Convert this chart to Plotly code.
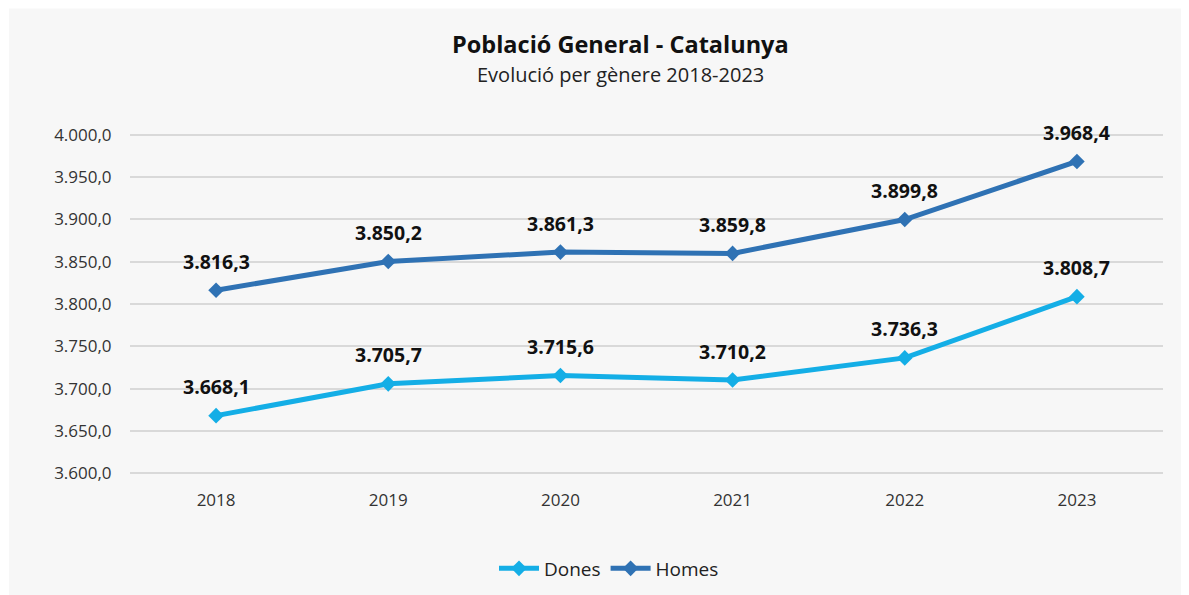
import plotly.graph_objects as go

years = ["2018", "2019", "2020", "2021", "2022", "2023"]
dones = [3668.1, 3705.7, 3715.6, 3710.2, 3736.3, 3808.7]
homes = [3816.3, 3850.2, 3861.3, 3859.8, 3899.8, 3968.4]
y_ticks = [3600, 3650, 3700, 3750, 3800, 3850, 3900, 3950, 4000]

C_DONES = "#14aee6"
C_HOMES = "#2f72b4"

# page body adds an 8px offset; figure sized to fit inside the window
OFF = 8
W, H = 1189 - OFF, 595 - OFF
YMIN, YMAX = 3598, 4002
PLOT_L, PLOT_R = 130 - OFF, 1163 - OFF
PY_4000, PY_3600 = 135 - OFF, 473 - OFF
ppu = (PY_3600 - PY_4000) / 400.0
T = PY_4000 - (YMAX - 4000) * ppu
Bpx = PY_3600 + (3600 - YMIN) * ppu
L, R, B = PLOT_L, W - PLOT_R, H - Bpx
PW, PH = PLOT_R - PLOT_L, Bpx - T


def px_x(p):
    return (p - OFF - L) / PW


def px_y(p):
    return (Bpx - (p - OFF)) / PH


def fmt(v):
    return f"{v:,.1f}".replace(",", "X").replace(".", ",").replace("X", ".")


fig = go.Figure()
fig.add_trace(go.Scatter(x=years, y=dones, name="Dones", mode="lines+markers",
                         line=dict(color=C_DONES, width=5),
                         marker=dict(symbol="diamond", size=12, color=C_DONES)))
fig.add_trace(go.Scatter(x=years, y=homes, name="Homes", mode="lines+markers",
                         line=dict(color=C_HOMES, width=5),
                         marker=dict(symbol="diamond", size=12, color=C_HOMES)))

annots = []
for series in (dones, homes):
    for i, v in enumerate(series):
        annots.append(dict(x=i, y=v, xref="x", yref="y", text="<b>" + fmt(v) + "</b>",
                           showarrow=False, yshift=29,
                           font=dict(family="Open Sans", size=19.5, color="#111111")))
annots.append(dict(x=px_x(620), y=px_y(44), xref="paper", yref="paper", showarrow=False,
                   text="<b>Població General - Catalunya</b>", xanchor="center", yanchor="middle",
                   font=dict(family="Open Sans", size=23.5, color="#111111")))
annots.append(dict(x=px_x(620), y=px_y(75), xref="paper", yref="paper", showarrow=False,
                   text="Evolució per gènere 2018-2023", xanchor="center", yanchor="middle",
                   font=dict(family="Open Sans", size=20, color="#222222")))

fig.update_layout(
    width=W, height=H,
    margin=dict(l=L, r=R, t=T, b=B, pad=0, autoexpand=False),
    paper_bgcolor="white",
    plot_bgcolor="rgba(0,0,0,0)",
    separators=",.",
    font=dict(family="Open Sans", size=17, color="#333333"),
    showlegend=True,
    legend=dict(orientation="h", x=px_x(609), xanchor="center", y=px_y(568), yanchor="middle",
                font=dict(size=19, color="#222222"), bgcolor="rgba(0,0,0,0)", itemwidth=40),
    annotations=annots,
    shapes=[dict(type="rect", xref="paper", yref="paper", layer="below",
                 x0=px_x(9), x1=px_x(1200), y0=px_y(610), y1=px_y(9),
                 fillcolor="#f7f7f7", line=dict(width=0))],
)
fig.update_xaxes(type="category", range=[-0.5, 5.5], showgrid=False, zeroline=False,
                 showline=False, ticks="outside", ticklen=10, tickcolor="rgba(0,0,0,0)",
                 tickfont=dict(size=17, color="#333333"), automargin=False)
fig.update_yaxes(range=[YMIN, YMAX], tickvals=y_ticks, tickformat=",.1f",
                 showgrid=True, gridcolor="#d9d9d9", gridwidth=2, zeroline=False,
                 showline=False, ticks="outside", ticklen=14, tickcolor="rgba(0,0,0,0)",
                 tickfont=dict(size=17, color="#333333"), automargin=False)

fig.write_html("out.html")
